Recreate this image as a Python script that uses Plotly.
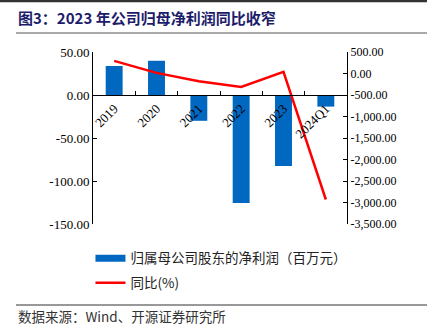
import plotly.graph_objects as go

categories = ["2019", "2020", "2021", "2022", "2023", "2024Q1"]
net_profit = [33.7, 39.8, -30.0, -125.5, -82.5, -13.5]
yoy = [293, 14, -180, -311, 37, -2930]

left_ticks = [50, 0, -50, -100, -150]
left_labels = ["50.00", "0.00", "-50.00", "-100.00", "-150.00"]
right_ticks = [500, 0, -500, -1000, -1500, -2000, -2500, -3000, -3500]
right_labels = ["500.00", "0.00", "-500.00", "-1,000.00", "-1,500.00",
                "-2,000.00", "-2,500.00", "-3,000.00", "-3,500.00"]

bar_name = "归属母公司股东的净利润（百万元）"
line_name = "同比(%)"
bar_color = "#0068C0"

serif = "Liberation Serif"
cjk = "Noto Sans CJK SC"

fig = go.Figure()
fig.add_trace(go.Bar(
    x=categories, y=net_profit, name=bar_name, showlegend=False,
    marker=dict(color=bar_color, line=dict(width=0)), width=0.4, yaxis="y"))
# legend entry drawn as a wide rectangle like the reference
fig.add_trace(go.Scatter(
    x=[None], y=[None], name=bar_name, mode="lines", legendgroup="a",
    line=dict(color=bar_color, width=7), yaxis="y"))
fig.add_trace(go.Scatter(
    x=categories, y=yoy, name=line_name, mode="lines", legendgroup="b",
    line=dict(color="#FF0000", width=2.5), yaxis="y2"))

fig.update_layout(
    width=432, height=328,
    margin=dict(l=93, r=85, t=52, b=104),
    paper_bgcolor="white", plot_bgcolor="white",
    showlegend=True,
    legend=dict(x=-0.01, y=-0.11, xanchor="left", yanchor="top",
                orientation="v", font=dict(family=cjk, size=13.5, color="#222"),
                itemwidth=30, tracegroupgap=4, bgcolor="rgba(0,0,0,0)"),
    xaxis=dict(
        anchor="free", position=0.75, showline=True, linecolor="black", linewidth=1,
        ticks="inside", tickson="boundaries", ticklen=4, tickcolor="black",
        tickangle=-45, tickfont=dict(family=serif, size=13, color="black"),
        showgrid=False, zeroline=False),
    yaxis=dict(
        range=[-150, 50], tickvals=left_ticks, ticktext=left_labels,
        showline=True, linecolor="black", linewidth=1, ticks="inside", ticklen=4,
        tickcolor="black", tickfont=dict(family=serif, size=13, color="black"),
        showgrid=False, zeroline=False),
    yaxis2=dict(
        range=[-3500, 500], tickvals=right_ticks, ticktext=right_labels,
        overlaying="y", side="right", showline=True, linecolor="black", linewidth=1,
        ticks="inside", ticklen=4, tickcolor="black",
        tickfont=dict(family=serif, size=12, color="black"),
        showgrid=False, zeroline=False),
)

# decorative header / footer rules
fig.add_shape(type="line", xref="paper", yref="paper", x0=-93/254, x1=(427-93)/254,
              y0=1 + 51/172, y1=1 + 51/172, line=dict(color="#333", width=2.5))
fig.add_shape(type="line", xref="paper", yref="paper", x0=(16-93)/254, x1=(427-93)/254,
              y0=1 + 19/172, y1=1 + 19/172, line=dict(color="#555", width=1))
fig.add_shape(type="line", xref="paper", yref="paper", x0=(16-93)/254, x1=(427-93)/254,
              y0=-(305-224)/172, y1=-(305-224)/172, line=dict(color="#333", width=1))

fig.add_annotation(text="<b>图3：2023 年公司归母净利润同比收窄</b>", xref="paper", yref="paper",
                   x=(16-93)/254, y=1 + (52-17)/172, xanchor="left", yanchor="middle",
                   showarrow=False, font=dict(family=cjk, size=15, color="#1C1C6B"))
fig.add_annotation(text="数据来源：Wind、开源证券研究所", xref="paper", yref="paper",
                   x=(16-93)/254, y=-(316-224)/172, xanchor="left", yanchor="middle",
                   showarrow=False, font=dict(family=cjk, size=13.5, color="#333"))

fig.write_html("out.html")
